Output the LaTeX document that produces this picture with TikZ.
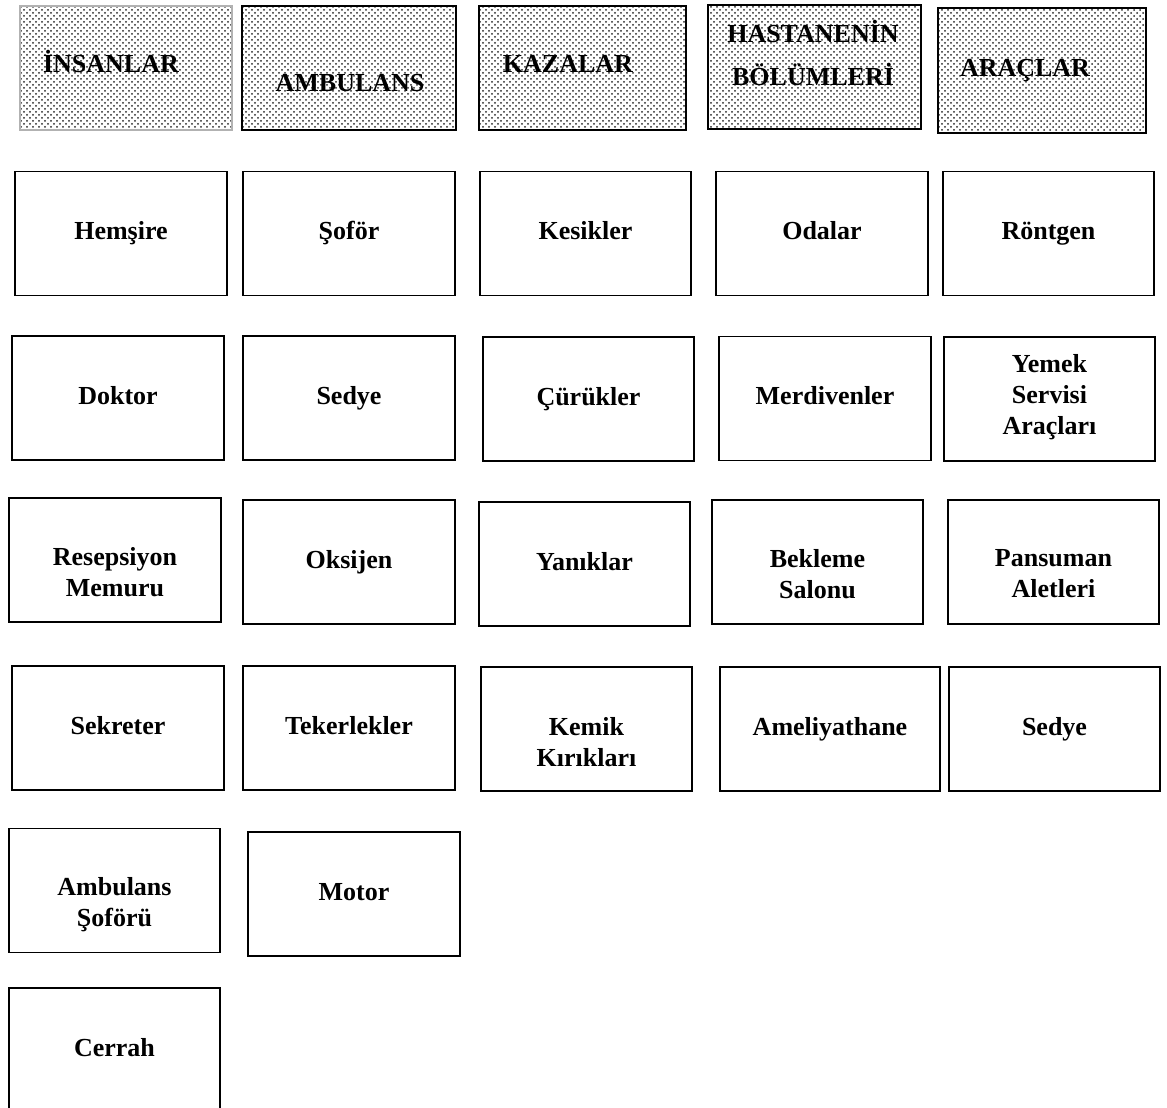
\documentclass[tikz,border=0pt]{standalone}
\usepackage{fontspec}
\setmainfont{Liberation Serif}
\usetikzlibrary{patterns}
\begin{document}
\begin{tikzpicture}
[x=0.5pt,y=-0.5pt,
every node/.style={inner sep=0pt,outer sep=0pt,align=center,
  font=\fontsize{13}{15.5}\selectfont\bfseries},
box/.style={draw,line width=0.8pt,minimum width=106pt,minimum height=62pt,
  execute at begin node=\rule[-5.5pt]{0pt}{17pt}},
head/.style={draw,line width=1pt,minimum width=106pt,minimum height=62pt,
  pattern=crosshatch dots,pattern color=black!85},
headtext/.style={font=\fontsize{13}{21.5}\selectfont\bfseries}]
	\useasboundingbox (0,0) rectangle (1167,1108);
	% header row
	\node[head,draw=black!30] (insanlar) at (126,68) {};
	\node[headtext] (insanlart) at (111,61) {İNSANLAR};
	\node[head,minimum width=107pt] (ambulans) at (349,68) {};
	\node[headtext] (ambulanst) at (350,83) {AMBULANS};
	\node[head,minimum width=103.5pt] (kazalar) at (582.5,68) {};
	\node[headtext] (kazalart) at (568,64) {KAZALAR};
	\node[head,minimum width=106.5pt] (hastane) at (814.5,67) {};
	\node[headtext] (hastanet) at (813,53) {HASTANENİN\\BÖLÜMLERİ};
	\node[head,minimum width=104pt,minimum height=62.5pt] (araclar) at (1042,70.5) {};
	\node[headtext] (araclart) at (1025,71) {ARAÇLAR};
	% second row
	\node[box] (hemsire) at (121,233.5) {Hemşire};
	\node[box] (sofor) at (349,233.5) {Şoför};
	\node[box,minimum width=105.5pt] (kesikler) at (585.5,233.5) {Kesikler};
	\node[box] (odalar) at (822,233.5) {Odalar};
	\node[box,minimum width=105.5pt] (rontgen) at (1048.5,233.5) {Röntgen};
	% third row
	\node[box] (doktor) at (118,398) {Doktor};
	\node[box] (sedye) at (349,398) {Sedye};
	\node[box,minimum width=105.5pt] (curukler) at (588.5,399) {Çürükler};
	\node[box] (merdivenler) at (825,398.5) {Merdivenler};
	\node[box,minimum width=105.5pt] (yemek) at (1049.5,399) {};
	\node (yemekt) at (1049.5,397) {Yemek\\Servisi\\Araçları};
	% fourth row
	\node[box] (resepsiyon) at (115,560) {};
	\node (resepsiyont) at (115,572) {Resepsiyon\\Memuru};
	\node[box] (oksijen) at (349,562) {Oksijen};
	\node[box,minimum width=105.5pt] (yaniklar) at (584.5,564) {Yanıklar};
	\node[box,minimum width=105.5pt] (bekleme) at (817.5,562) {};
	\node (beklemet) at (817.5,574) {Bekleme\\Salonu};
	\node[box,minimum width=105.5pt] (pansuman) at (1053.5,562) {};
	\node (pansumant) at (1053.5,574) {Pansuman\\Aletleri};
	% fifth row
	\node[box] (sekreter) at (118,728) {Sekreter};
	\node[box] (tekerlekler) at (349,728) {Tekerlekler};
	\node[box,minimum width=105.5pt] (kemik) at (586.5,729) {};
	\node (kemikt) at (586.5,742) {Kemik\\Kırıkları};
	\node[box,minimum width=110pt] (ameliyathane) at (830,729) {Ameliyathane};
	\node[box,minimum width=105.5pt] (sedyeiki) at (1054.5,729) {Sedye};
	% last rows
	\node[box,minimum width=105.5pt] (ambsoforu) at (114.5,890.5) {};
	\node (ambsoforut) at (114.5,905) {Ambulans\\Şoförü};
	\node[box] (motor) at (354,894) {Motor};
	\node[box,minimum width=105.5pt] (cerrah) at (114.5,1050) {Cerrah};
\end{tikzpicture}
\end{document}
